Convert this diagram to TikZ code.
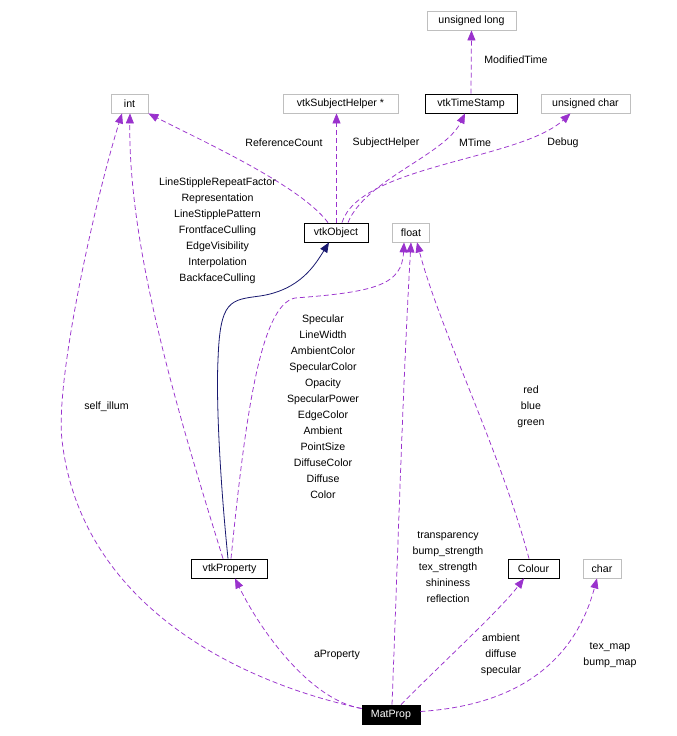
\documentclass[tikz,border=0pt]{standalone}
\usepackage{fontspec}
\setmainfont{Liberation Sans}
\usetikzlibrary{arrows.meta}
\definecolor{edgec}{HTML}{9A32CD}
\definecolor{inhc}{HTML}{191970}
\definecolor{boxg}{HTML}{BFBFBF}
\begin{document}
\begin{tikzpicture}[x=1pt,y=-1pt,
  lbl/.style={font=\fontsize{10.6}{16}\selectfont, inner sep=0pt, align=center},
  cls/.style={draw=black, line width=0.8pt, fill=white, minimum height=19pt, inner sep=0pt, font=\fontsize{10.6}{13}\selectfont},
  ext/.style={cls, draw=boxg},
  cur/.style={cls, fill=black, text=white},
  dep/.style={draw=edgec, line width=0.75pt, dash pattern=on 5pt off 3pt, -{Triangle[length=10pt,width=8pt,fill=edgec]}},
  inh/.style={draw=inhc, line width=0.8pt, -{Triangle[length=10pt,width=8pt,fill=inhc]}}]
\fill[white] (0,0) rectangle (677,736);
\useasboundingbox (0,0) rectangle (677,736);

% nodes
\node[ext, minimum width=89pt] (ul) at (471.5,20.5) {unsigned long};
\node[ext, minimum width=37pt] (int) at (129.5,103.5) {int};
\node[ext, minimum width=115pt] (sh) at (340.5,103.5) {vtkSubjectHelper *};
\node[cls, minimum width=92pt] (ts) at (471,103.5) {vtkTimeStamp};
\node[ext, minimum width=89pt] (uc) at (585.5,103.5) {unsigned char};
\node[cls, minimum width=64pt] (obj) at (336,232.5) {vtkObject};
\node[ext, minimum width=37pt] (flt) at (411,232.5) {float};
\node[cls, minimum width=76pt] (vp) at (229.5,568.5) {vtkProperty};
\node[cls, minimum width=51pt] (col) at (533.5,568.5) {Colour};
\node[ext, minimum width=38pt] (chr) at (602,568.5) {char};
\node[cur, minimum width=58pt] (mp) at (391,714.5) {MatProp};

% edges
\draw[dep] (ts.north) -- (ul.south);
\draw[dep] ([xshift=-8pt]obj.north) .. controls (300,185) and (200,140) .. (int.south east);
\draw[dep] ([xshift=0.5pt]obj.north) -- ([xshift=-4pt]sh.south);
\draw[dep] ([xshift=12pt]obj.north) .. controls (365,180) and (445,155) .. ([xshift=-6pt]ts.south);
\draw[dep] ([xshift=6pt]obj.north) .. controls (360,165) and (520,160) .. ([xshift=-15pt]uc.south);

\draw[inh] ([xshift=-1.5pt]vp.north) .. controls (220,480) and (216,400) .. (218,360) .. controls (220,300) and (230,300) .. (260,296) .. controls (300,290) and (315,265) .. ([xshift=-7pt]obj.south);
\draw[dep] ([xshift=-6.5pt]vp.north) .. controls (180,420) and (128,250) .. ([xshift=0.5pt]int.south);
\draw[dep] ([xshift=1.5pt]vp.north) .. controls (245,420) and (260,305) .. (295,298) .. controls (375,292) and (402,285) .. ([xshift=-7pt]flt.south);

\draw[dep] ([yshift=6pt]mp.west) .. controls (230,680) and (80,600) .. (62,440) .. controls (55,380) and (95,200) .. ([xshift=-7.5pt]int.south);
\draw[dep] ([yshift=6pt]mp.west) .. controls (310,700) and (260,630) .. ([xshift=5.5pt]vp.south);
\draw[dep] ([xshift=1pt]mp.north) .. controls (398,550) and (403,380) .. (flt.south);
\draw[dep] ([xshift=10pt]mp.north) .. controls (440,665) and (500,610) .. ([xshift=-9.5pt]col.south);
\draw[dep] ([yshift=3pt]mp.east) .. controls (520,705) and (575,660) .. ([xshift=-5pt]chr.south);
\draw[dep] ([xshift=-4.5pt]col.north) .. controls (500,450) and (440,330) .. ([xshift=6pt]flt.south);

% labels
\node[lbl] (l1) at (516,60) {ModifiedTime};
\node[lbl] (l2) at (284,143) {ReferenceCount};
\node[lbl] (l3) at (386,143) {SubjectHelper};
\node[lbl] (l4) at (475,143) {MTime};
\node[lbl] (l5) at (563,143) {Debug};
\node[lbl] (l6) at (217.5,231) {LineStippleRepeatFactor\\Representation\\LineStipplePattern\\FrontfaceCulling\\EdgeVisibility\\Interpolation\\BackfaceCulling};
\node[lbl] (l7) at (323,407) {Specular\\LineWidth\\AmbientColor\\SpecularColor\\Opacity\\SpecularPower\\EdgeColor\\Ambient\\PointSize\\DiffuseColor\\Diffuse\\Color};
\node[lbl] (l8) at (531,407) {red\\blue\\green};
\node[lbl] (l9) at (106.5,407) {self\_illum};
\node[lbl] (l10) at (448,567) {transparency\\bump\_strength\\tex\_strength\\shininess\\reflection};
\node[lbl] (l11) at (337,655) {aProperty};
\node[lbl] (l12) at (501,655) {ambient\\diffuse\\specular};
\node[lbl] (l13) at (610,655) {tex\_map\\bump\_map};
\end{tikzpicture}
\end{document}
